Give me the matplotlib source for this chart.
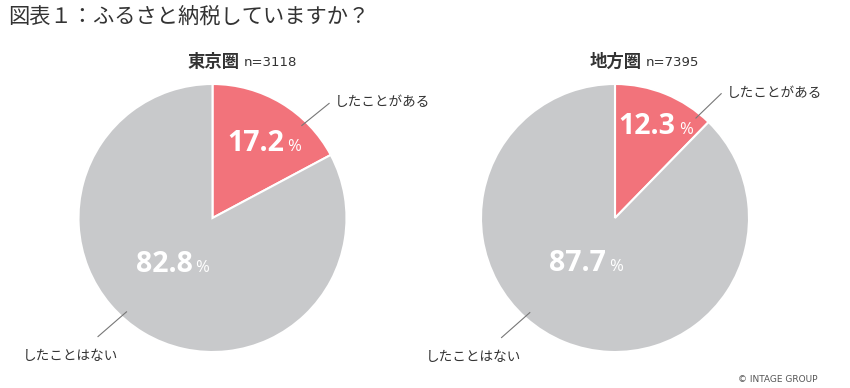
import numpy as np
import matplotlib
matplotlib.use('Agg')
import matplotlib.pyplot as plt

plt.rcParams['font.family'] = ['Noto Sans CJK JP', 'DejaVu Sans']

# data
regions = ['東京圏', '地方圏']
sample_sizes = [3118, 7395]
answers = ['したことがある', 'したことはない']
shares = [[17.2, 82.8], [12.3, 87.7]]

colors = ['#F2737B', '#C8C9CB']
text_dark = '#333333'

W, H = 850, 388
fig = plt.figure(figsize=(W / 100, H / 100), dpi=100)
ax = fig.add_axes([0, 0, 1, 1])
ax.set_xlim(0, W)
ax.set_ylim(0, H)
ax.axis('off')

centers = [(212.5, 170), (615, 170)]
radius = 134

# label placement per chart: (distance ratio, angle offset) for pct labels
pct_dist = [[0.68, -5], [0.75, -3]]
pct_dist_gray = [[0.45, -8], [0.40, -8]]
# leader angles (deg) for "ある" (upper right) and "ない" (lower left)
lead_top = [46, 51]
lead_bot = [-132.5, -132]


def polar(c, r, ang):
    a = np.deg2rad(ang)
    return c[0] + r * np.cos(a), c[1] + r * np.sin(a)


for i, (c, vals) in enumerate(zip(centers, shares)):
    wedges, _ = ax.pie(vals, colors=colors, startangle=90, counterclock=False,
                       center=c, radius=radius,
                       wedgeprops=dict(edgecolor='white', linewidth=1.5))
    ax.set_xlim(0, W)
    ax.set_ylim(0, H)

    # region title
    ax.text(c[0] + 27, H - 62, regions[i], ha='right', va='center',
            fontsize=12.5, fontweight='bold', color=text_dark)
    ax.text(c[0] + 31, H - 62, f'n={sample_sizes[i]}', ha='left', va='center',
            fontsize=9.5, color=text_dark, family='DejaVu Sans')

    # percentage labels
    for j, w in enumerate(wedges):
        mid = (w.theta1 + w.theta2) / 2
        if j == 0:
            d, off = pct_dist[i]
        else:
            d, off = pct_dist_gray[i]
        x, y = polar(c, radius * d, mid + off)
        ax.text(x + 18, y - 7, f'{vals[j]:.1f}', ha='right', va='baseline',
                fontsize=20.5, fontweight='bold', color='white', family='Open Sans')
        ax.text(x + 21, y - 7, '%', ha='left', va='baseline',
                fontsize=12, color='white', family='Open Sans')

    # leader lines + answer labels
    x0, y0 = polar(c, radius * 0.96, lead_top[i])
    x1, y1 = polar(c, radius * 1.22, lead_top[i] - 1.5)
    ax.plot([x0, x1], [y0, y1], color='#777777', lw=0.8)
    ax.text(x1 + 6, y1 + 1, answers[0], ha='left', va='center',
            fontsize=9.8, color=text_dark)

    x0, y0 = polar(c, radius * 0.95, lead_bot[i])
    x1, y1 = polar(c, radius * 1.23, lead_bot[i] - 1.5)
    ax.plot([x0, x1], [y0, y1], color='#777777', lw=0.8)
    ax.text(x1 + 20, y1 - 19, answers[1], ha='right', va='center',
            fontsize=9.8, color=text_dark)

ax.text(8, H - 17, '図表１：ふるさと納税していますか？', ha='left', va='center',
        fontsize=15.3, color=text_dark)
ax.text(818, H - 379, '© INTAGE GROUP', ha='right', va='center',
        fontsize=6.5, color='#555555', family='DejaVu Sans')

fig.savefig('out.png', dpi=100)
